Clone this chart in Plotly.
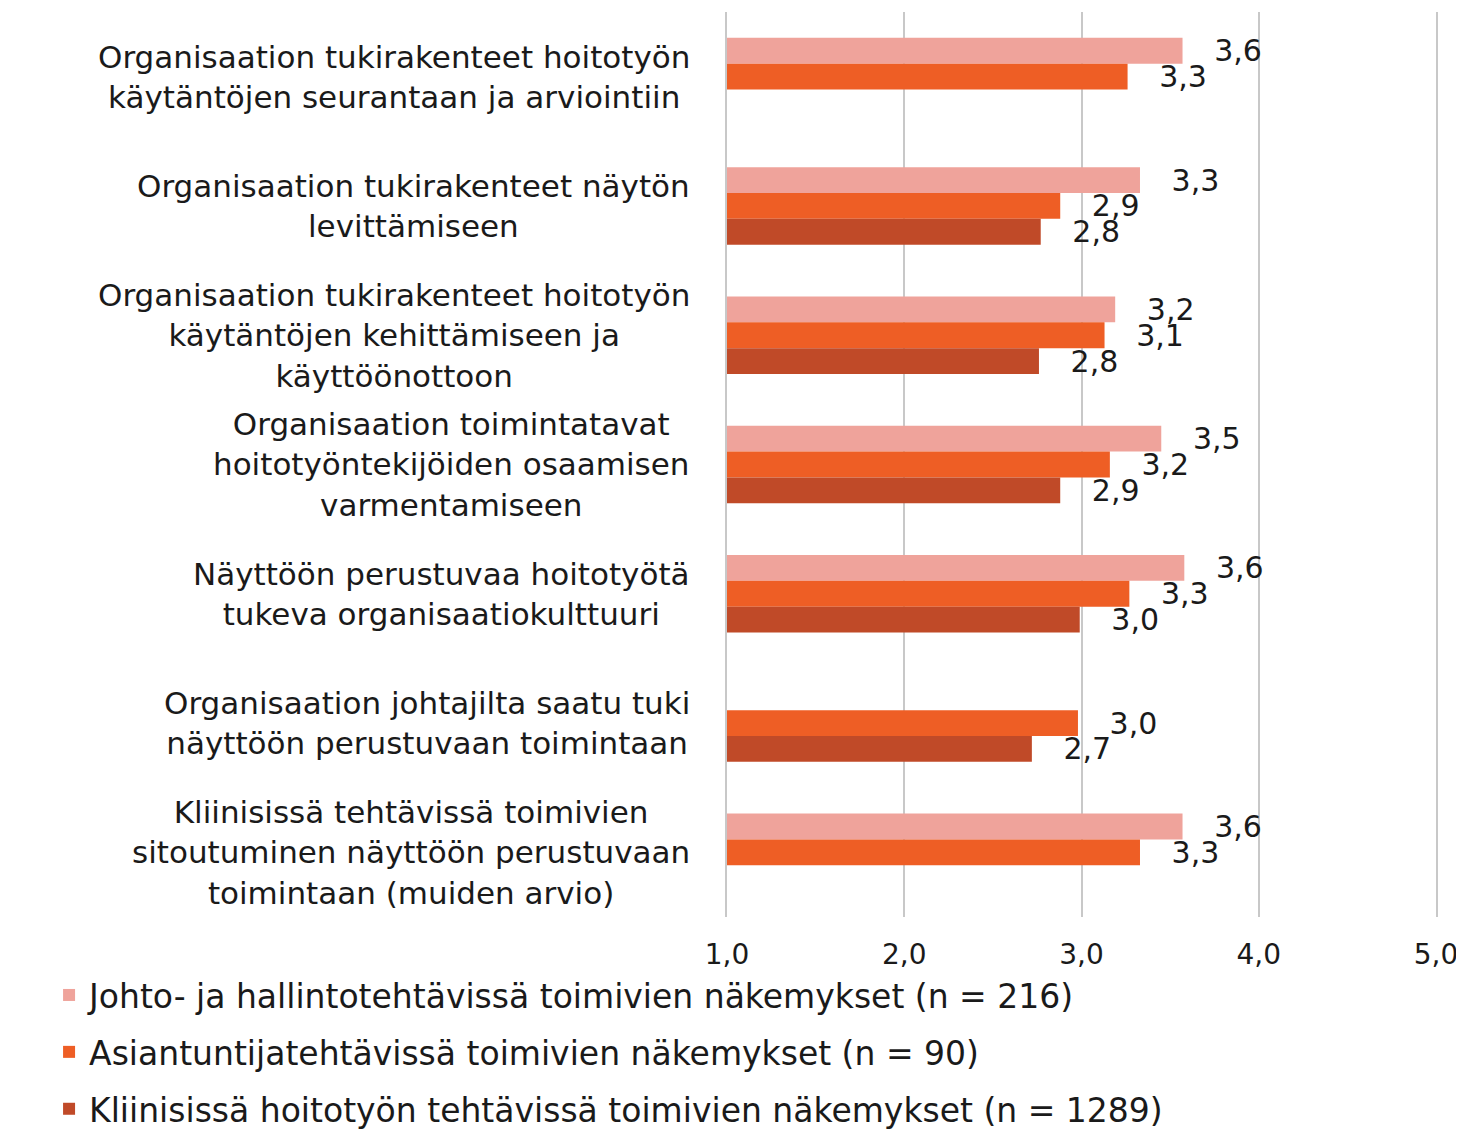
import plotly.graph_objects as go

categories = [
    "Organisaation tukirakenteet hoitotyön<br>käytäntöjen seurantaan ja arviointiin",
    "Organisaation tukirakenteet näytön<br>levittämiseen",
    "Organisaation tukirakenteet hoitotyön<br>käytäntöjen kehittämiseen ja<br>käyttöönottoon",
    "Organisaation toimintatavat<br>hoitotyöntekijöiden osaamisen<br>varmentamiseen",
    "Näyttöön perustuvaa hoitotyötä<br>tukeva organisaatiokulttuuri",
    "Organisaation johtajilta saatu tuki<br>näyttöön perustuvaan toimintaan",
    "Kliinisissä tehtävissä toimivien<br>sitoutuminen näyttöön perustuvaan<br>toimintaan (muiden arvio)",
]
series_names = [
    "Johto- ja hallintotehtävissä toimivien näkemykset (n = 216)",
    "Asiantuntijatehtävissä toimivien näkemykset (n = 90)",
    "Kliinisissä hoitotyön tehtävissä toimivien näkemykset (n = 1289)",
]
johto = [3.57, 3.33, 3.19, 3.45, 3.58, None, 3.57]
asiantuntija = [3.26, 2.88, 3.13, 3.16, 3.27, 2.98, 3.33]
kliininen = [None, 2.77, 2.76, 2.88, 2.99, 2.72, None]
colors = ["#EFA39B", "#EE5E25", "#C04A28"]

FONT = "DejaVu Sans, Liberation Sans, Arial, sans-serif"
TXT = "#1a1a1a"
GRID = "#C8C8C8"

fig = go.Figure()
for i, (name, vals) in enumerate(zip(series_names, [johto, asiantuntija, kliininen])):
    fig.add_trace(go.Bar(
        y=categories, x=vals, orientation="h", name=name,
        marker=dict(color=colors[i], line=dict(width=0)),
        texttemplate="\u00a0\u00a0\u00a0%{x:.1f}", textposition="outside",
        constraintext="none",
        textfont=dict(size=30, color=TXT, family=FONT),
        cliponaxis=False, legendgroup=f"g{i}",
    ))

for c in categories:
    fig.add_annotation(
        x=-0.049, xref="paper", y=c, yref="y", text=c, showarrow=False,
        xanchor="right", yanchor="middle", align="center",
        font=dict(size=31, color=TXT, family=FONT),
    )

fig.update_layout(
    width=1456, height=1121,
    margin=dict(l=719, r=28, t=4, b=212, autoexpand=False),
    barmode="group", bargap=0.4, bargroupgap=0,
    separators=",.",
    plot_bgcolor="white", paper_bgcolor="white",
    font=dict(family=FONT, color=TXT),
    xaxis=dict(range=[1, 5], dtick=1, tickformat=".1f", showgrid=True,
               gridcolor=GRID, gridwidth=2, zeroline=False, showline=False,
               tickfont=dict(size=28, family=FONT, color=TXT), ticks="",
               ticklabelstandoff=18),
    yaxis=dict(autorange="reversed", showticklabels=False, showgrid=False,
               zeroline=False, showline=True, mirror=True, ticks="",
               linecolor=GRID, linewidth=2),
    legend=dict(xref="container", yref="container", x=0.0282, y=0.1445,
                xanchor="left", yanchor="top", orientation="v",
                traceorder="grouped", tracegroupgap=11,
                font=dict(size=33, family=FONT, color=TXT),
                itemwidth=30),
    showlegend=True,
)

fig.write_html("out.html")
